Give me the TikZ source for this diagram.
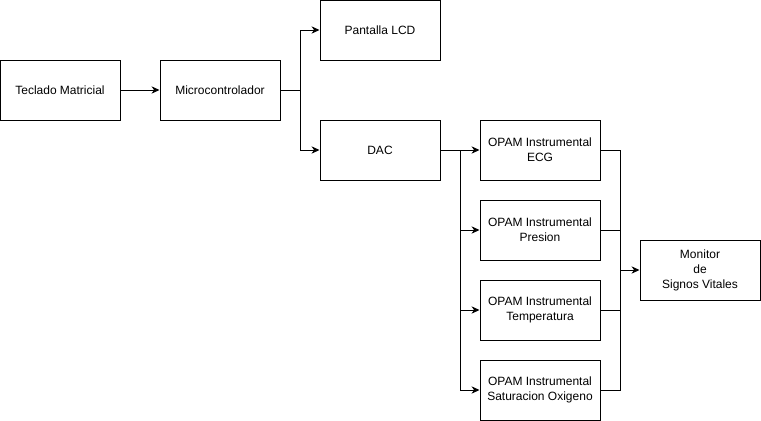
\documentclass[tikz,border=0pt]{standalone}
\usepackage{fontspec}
\setmainfont{Liberation Sans}
\usepackage{tikz}
\usetikzlibrary{calc,arrows.meta}

\begin{document}
\begin{tikzpicture}[x=0.75pt,y=-0.75pt,line width=0.75pt,>={Stealth[length=6pt,width=5.5pt]},
            every node/.style={draw,fill=white,minimum width=90pt,minimum height=45pt,inner sep=0pt,align=center,font=\fontsize{9}{11.25}\selectfont}]
            
            % frame of the picture
            \useasboundingbox (0,0) rectangle (761,421);
            
            % Define the junction points as coordinates
            \coordinate (jMC) at (300,90);
            \coordinate (jDAC) at (460,150);
            \coordinate (jOP) at (620,270);
        
            \node (teclado) at (60,90) {Teclado Matricial};
            \node (micro) at (220,90) {Microcontrolador};
            \node (lcd) at (380,30) {Pantalla LCD};
            \node (dac) at (380,150) {DAC};
        
            \node (ecg) at (540,150) {OPAM Instrumental\\ECG};
            \node (presion) at (540,230) {OPAM Instrumental\\Presion};
            \node (temp) at (540,310) {OPAM Instrumental\\Temperatura};
            \node (sat) at (540,390) {OPAM Instrumental\\Saturacion Oxigeno};
            
            \node (monitor) at (700,270) {Monitor\\de\\Signos Vitales};
            
            \draw[->](teclado.east)--(micro.west);
            \draw(micro.east)--(jMC);
            \draw[->](jMC)|-(lcd.west);
            \draw[->](jMC)|-(dac.west);
            
            \draw(dac.east)--(jDAC);
            \draw[->](jDAC)--(ecg.west);
            \draw[->](jDAC)|-(presion.west);
            \draw[->](jDAC)|-(temp.west);
            \draw[->](jDAC)|-(sat.west);
            
            \draw(ecg.east)-|(jOP);
            \draw(presion.east)-|(jOP);
            \draw(temp.east)-|(jOP);
            \draw(sat.east)-|(jOP);
            \draw[->](jOP)--(monitor.west);
            
            \end{tikzpicture}
\end{document}
